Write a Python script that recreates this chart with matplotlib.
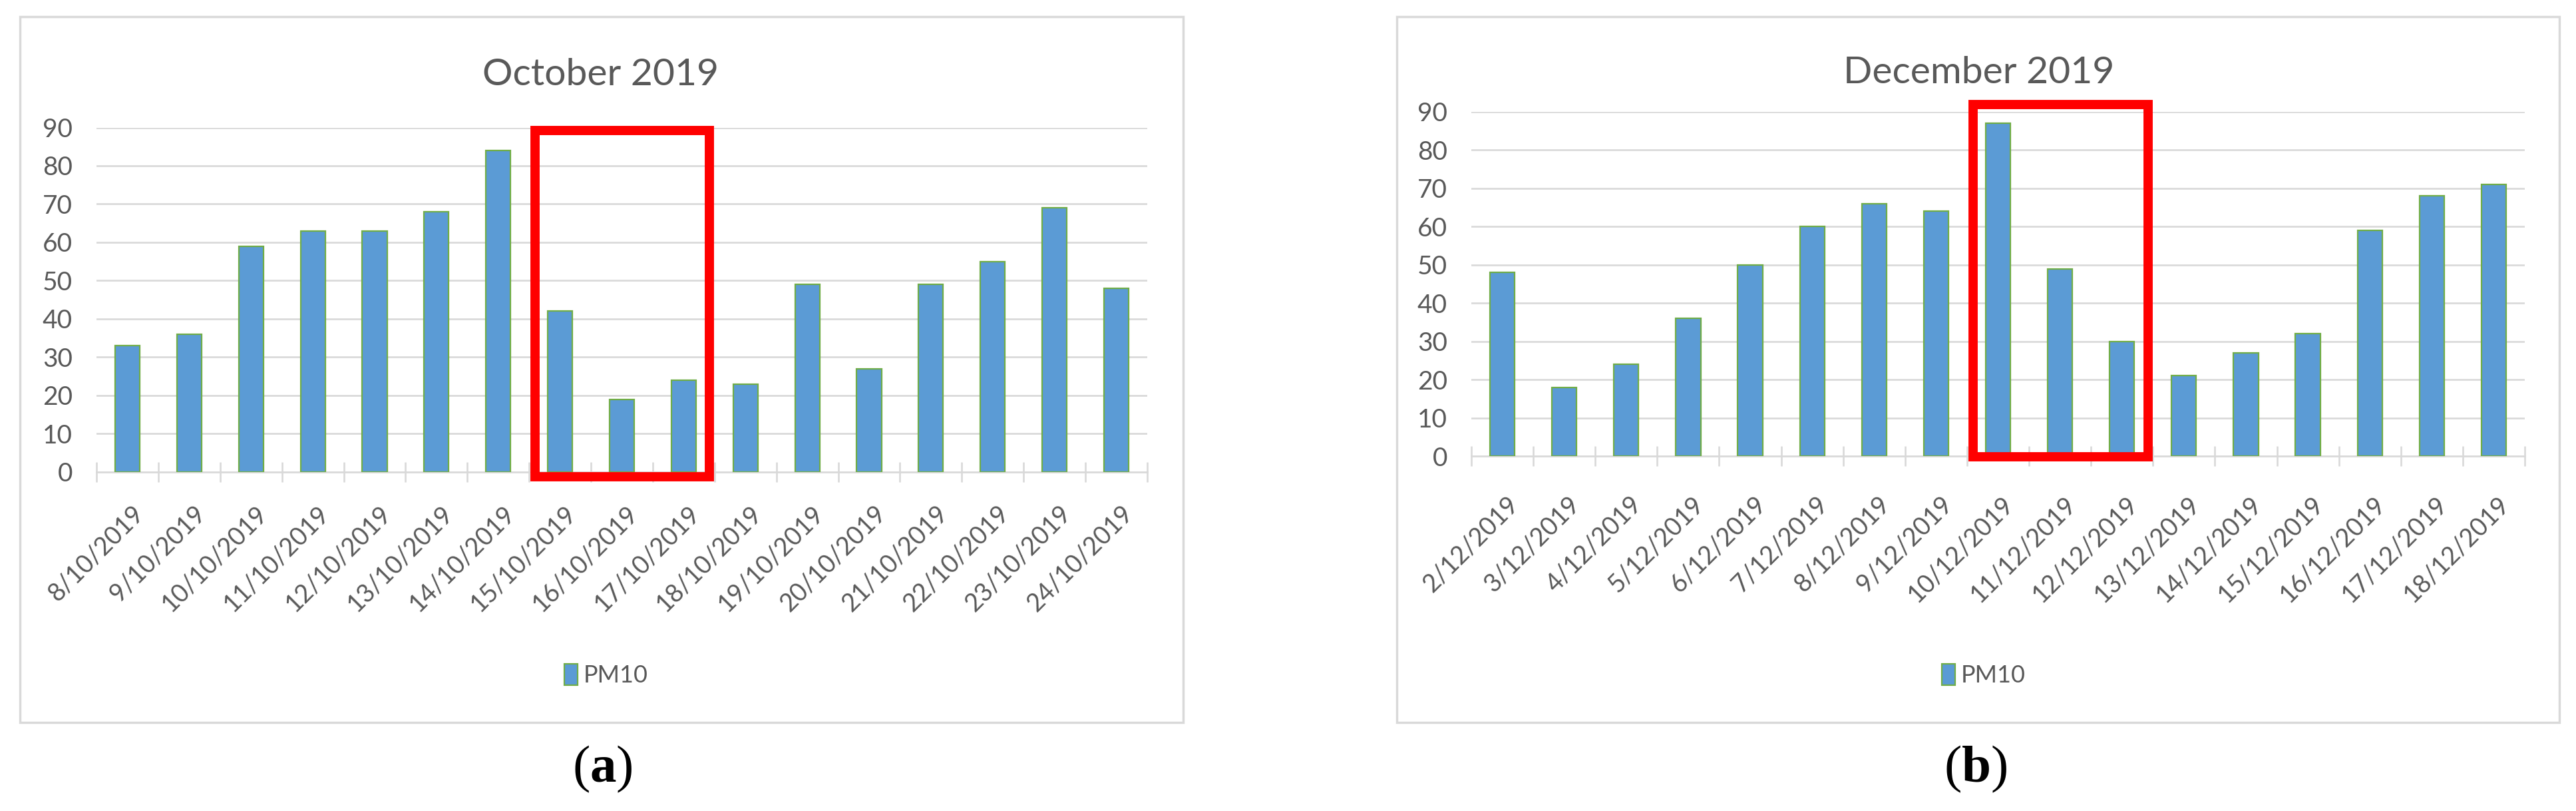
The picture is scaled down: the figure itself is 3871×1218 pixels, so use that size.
import matplotlib
matplotlib.use("Agg")
import matplotlib.pyplot as plt
import matplotlib.transforms as mtransforms
from matplotlib.patches import Rectangle

# ---- data ----
oct_dates = ["8/10/2019", "9/10/2019", "10/10/2019", "11/10/2019", "12/10/2019",
             "13/10/2019", "14/10/2019", "15/10/2019", "16/10/2019", "17/10/2019",
             "18/10/2019", "19/10/2019", "20/10/2019", "21/10/2019", "22/10/2019",
             "23/10/2019", "24/10/2019"]
oct_pm10 = [33, 36, 59, 63, 63, 68, 84, 42, 19, 24, 23, 49, 27, 49, 55, 69, 48]

dec_dates = ["2/12/2019", "3/12/2019", "4/12/2019", "5/12/2019", "6/12/2019",
             "7/12/2019", "8/12/2019", "9/12/2019", "10/12/2019", "11/12/2019",
             "12/12/2019", "13/12/2019", "14/12/2019", "15/12/2019", "16/12/2019",
             "17/12/2019", "18/12/2019"]
dec_pm10 = [48, 18, 24, 36, 50, 60, 66, 64, 87, 49, 30, 21, 27, 32, 59, 68, 71]

titles = ["October 2019", "December 2019"]
captions = ["a", "b"]
series_name = "PM10"
yticks = [0, 10, 20, 30, 40, 50, 60, 70, 80, 90]

# ---- style ----
W, H = 3871, 1218
DPI = 100
plt.rcParams['font.family'] = ['Lato', 'DejaVu Sans']
plt.rcParams['mathtext.fontset'] = 'custom'
plt.rcParams['mathtext.rm'] = 'Liberation Serif'
plt.rcParams['mathtext.bf'] = 'Liberation Serif:bold'

TXT = '#595959'
GRID = '#D9D9D9'
BAR = '#5B9BD5'
EDGE = '#70AD47'

fig = plt.figure(figsize=(W / DPI, H / DPI), dpi=DPI)

def fx(px):
    return px / W

def fy(py):
    return 1 - py / H

panels = [
    dict(dates=oct_dates, vals=oct_pm10, title=titles[0], cap=captions[0],
         ax=(145, 1724, 191.5, 708.7), box=(29.5, 1778, 25, 1085),
         title_xy=(903, 128), legend_xy=(911, 1014), cap_xy=(905, 1155),
         hl=(6.6, 9.42, -1.27, 89.2), lab_shift=(19, 15)),
    dict(dates=dec_dates, vals=dec_pm10, title=titles[1], cap=captions[1],
         ax=(2211, 3794, 168, 685), box=(2099, 3846, 25, 1085),
         title_xy=(2974, 125), legend_xy=(2981, 1014), cap_xy=(2969, 1155),
         hl=(7.6, 10.42, -0.26, 91.9), lab_shift=(18, 25)),
]

for p in panels:
    bx0, bx1, by0, by1 = p['box']
    fig.patches.append(Rectangle((fx(bx0), fy(by1)), fx(bx1 - bx0), (by1 - by0) / H,
                                 transform=fig.transFigure, facecolor='none',
                                 edgecolor=GRID, linewidth=2.5, zorder=-10))
    x0, x1, yt, yb = p['ax']
    ax = fig.add_axes([fx(x0), fy(yb), fx(x1 - x0), (yb - yt) / H])
    n = len(p['dates'])
    xs = list(range(n))
    bars = ax.bar(xs, p['vals'], width=0.4, color=BAR, edgecolor=EDGE,
                  linewidth=1.6, label=series_name, zorder=3)
    ax.set_xlim(-0.5, n - 0.5)
    ax.set_ylim(0, 90)
    ax.set_yticks(yticks)
    ax.set_yticklabels([str(v) for v in yticks])
    ax.yaxis.grid(True, color=GRID, linewidth=1.9, zorder=0)
    ax.set_axisbelow(True)
    for s in ['top', 'right', 'left']:
        ax.spines[s].set_visible(False)
    ax.spines['bottom'].set_color(GRID)
    ax.spines['bottom'].set_linewidth(1.9)
    ax.spines['bottom'].set_zorder(2)
    ax.tick_params(axis='y', length=0, pad=26, labelsize=28, labelcolor=TXT)
    ax.set_xticks(xs)
    ax.set_xticklabels(p['dates'], rotation=45, ha='right', va='center',
                       rotation_mode='anchor')
    ax.set_xticks([i - 0.5 for i in range(n + 1)], minor=True)
    ax.tick_params(axis='x', which='major', length=0, pad=30, labelsize=27,
                   labelcolor=TXT)
    ax.tick_params(axis='x', which='minor', direction='inout', length=22,
                   width=1.9, color=GRID)
    ax.set_facecolor('none')
    sx, sy = p['lab_shift']
    offset = mtransforms.ScaledTranslation(sx / DPI, -sy / DPI, fig.dpi_scale_trans)
    for lab in ax.get_xticklabels():
        lab.set_transform(lab.get_transform() + offset)

    # highlight rectangle (red box)
    hx0, hx1, hy0, hy1 = p['hl']
    ax.add_patch(Rectangle((hx0, hy0), hx1 - hx0, hy1 - hy0, fill=False,
                           edgecolor='#FF0000', linewidth=10, clip_on=False,
                           zorder=5))

    tx, ty = p['title_xy']
    fig.text(fx(tx), fy(ty), p['title'], ha='center', va='baseline',
             fontsize=41, color=TXT)

    lx, ly = p['legend_xy']
    ax.legend(handles=[bars], loc='center', bbox_to_anchor=(fx(lx), fy(ly)),
              bbox_transform=fig.transFigure, frameon=False, fontsize=26,
              handlelength=0.55, handleheight=1.0, handletextpad=0.25,
              labelcolor=TXT)

    cx, cy = p['cap_xy']
    fig.text(fx(cx), fy(cy), r'$\mathrm{(}\mathbf{%s}\mathrm{)}$' % p['cap'],
             ha='center', va='center', fontsize=57, color='black')

fig.savefig('out.png', dpi=DPI, facecolor='white')
